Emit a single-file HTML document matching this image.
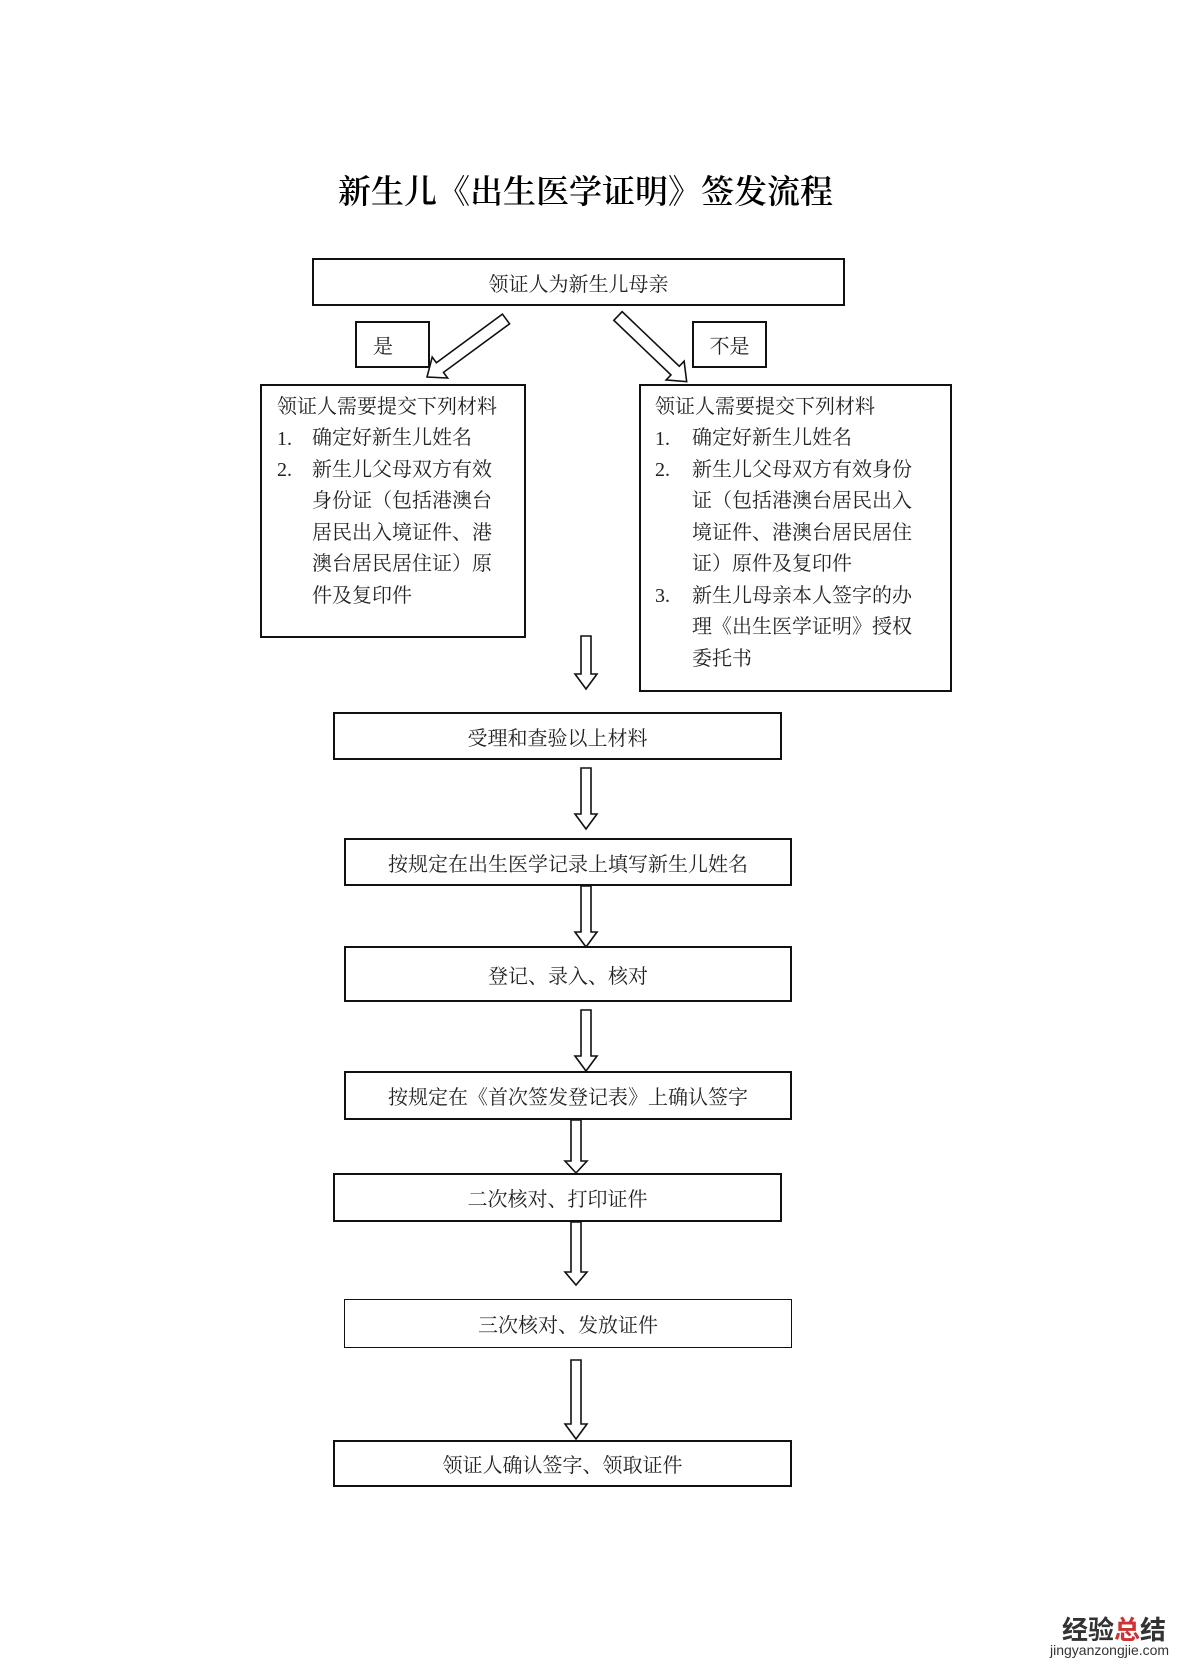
<!DOCTYPE html>
<html><head><meta charset="utf-8"><style>
body{margin:0;background:#fff;}
#c{position:relative;width:1200px;height:1674px;overflow:hidden;background:#fff;font-family:"Liberation Serif","Noto Serif CJK SC",serif;color:#222;}
.b{position:absolute;border:2px solid #111;box-sizing:border-box;display:flex;align-items:center;justify-content:center;font-size:20px;}
.t{position:absolute;font-size:20px;line-height:31.5px;white-space:nowrap;}
svg{position:absolute;left:0;top:0;}
</style></head><body><div id="c">
<div style="position:absolute;left:338px;top:166px;font-size:33px;white-space:nowrap;color:#000;font-weight:600;">新生儿《出生医学证明》签发流程</div>
<div class="b" style="left:312px;top:258px;width:533px;height:48px;">领证人为新生儿母亲</div>
<div class="b" style="left:355px;top:321px;width:75px;height:47px;justify-content:flex-start;padding-left:16px;">是</div>
<div class="b" style="left:692px;top:321px;width:75px;height:47px;">不是</div>
<div class="b" style="left:260px;top:384px;width:266px;height:254px;"></div>
<div class="b" style="left:639px;top:384px;width:313px;height:308px;"></div>
<div class="t" style="left:277px;top:392px;">领证人需要提交下列材料<br>1.<br>2.</div>
<div class="t" style="left:312px;top:423px;">确定好新生儿姓名<br>新生儿父母双方有效<br>身份证（包括港澳台<br>居民出入境证件、港<br>澳台居民居住证）原<br>件及复印件</div>
<div class="t" style="left:655px;top:392px;">领证人需要提交下列材料<br>1.<br>2.<br><br><br><br>3.</div>
<div class="t" style="left:692px;top:423px;">确定好新生儿姓名<br>新生儿父母双方有效身份<br>证（包括港澳台居民出入<br>境证件、港澳台居民居住<br>证）原件及复印件<br>新生儿母亲本人签字的办<br>理《出生医学证明》授权<br>委托书</div>
<div class="b" style="left:333px;top:712px;width:449px;height:48px;">受理和查验以上材料</div>
<div class="b" style="left:344px;top:838px;width:448px;height:48px;">按规定在出生医学记录上填写新生儿姓名</div>
<div class="b" style="left:344px;top:946px;width:448px;height:56px;">登记、录入、核对</div>
<div class="b" style="left:344px;top:1071px;width:448px;height:49px;">按规定在《首次签发登记表》上确认签字</div>
<div class="b" style="left:333px;top:1173px;width:449px;height:49px;">二次核对、打印证件</div>
<div class="b" style="left:344px;top:1299px;width:448px;height:49px;border-width:1px;">三次核对、发放证件</div>
<div class="b" style="left:333px;top:1440px;width:459px;height:47px;">领证人确认签字、领取证件</div>
<svg width="1200" height="1674" fill="#fff" stroke="#111" stroke-width="1.6">
<g transform="translate(506,319) rotate(53.7)"><polygon points="-6,0 6,0 6,82 13,82 0,98 -13,82 -6,82"/></g>
<g transform="translate(618,316) rotate(-46.3)"><polygon points="-6,0 6,0 6,79 13,79 0,95 -13,79 -6,79"/></g>
<g transform="translate(586,636)"><polygon points="-5,0 5,0 5,38 11,38 0,53 -11,38 -5,38"/></g>
<g transform="translate(586,768)"><polygon points="-5,0 5,0 5,46 11,46 0,61 -11,46 -5,46"/></g>
<g transform="translate(586,886)"><polygon points="-5,0 5,0 5,46 11,46 0,61 -11,46 -5,46"/></g>
<g transform="translate(586,1010)"><polygon points="-5,0 5,0 5,46 11,46 0,61 -11,46 -5,46"/></g>
<g transform="translate(576,1120)"><polygon points="-5,0 5,0 5,41 11,41 0,53 -11,41 -5,41"/></g>
<g transform="translate(576,1222)"><polygon points="-5,0 5,0 5,50 11,50 0,63 -11,50 -5,50"/></g>
<g transform="translate(576,1360)"><polygon points="-5,0 5,0 5,64 11,64 0,79 -11,64 -5,64"/></g>
</svg>
<div style="position:absolute;left:1062px;top:1610px;font-size:26px;font-weight:bold;font-family:'Noto Sans CJK SC',sans-serif;color:#333;white-space:nowrap;">经验<span style="color:#c33">总</span>结</div>
<div style="position:absolute;left:1050px;top:1642px;font-size:14px;font-family:'Liberation Sans',sans-serif;color:#333;white-space:nowrap;">jingyanzongjie.com</div>
</div></body></html>
